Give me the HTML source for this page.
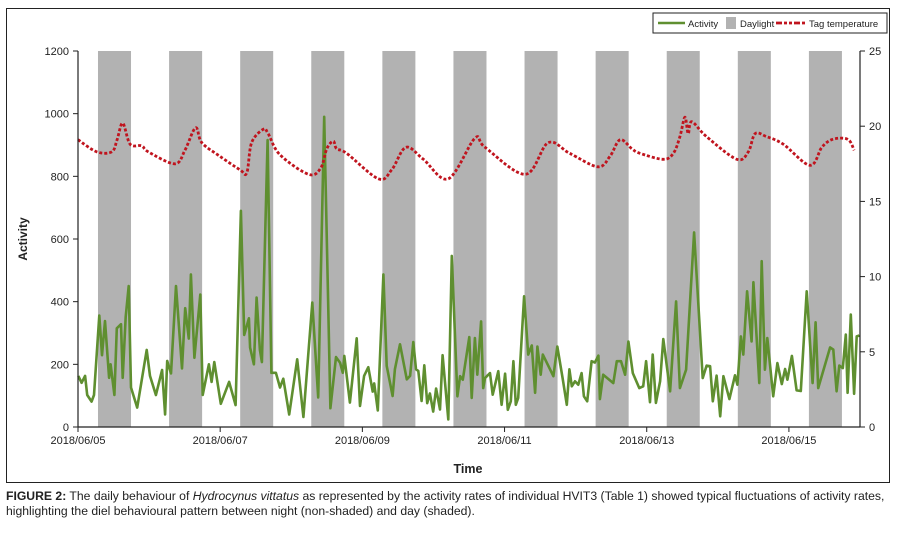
<!DOCTYPE html>
<html><head><meta charset="utf-8">
<style>
body{margin:0;background:#fff;width:897px;height:536px;overflow:hidden;font-family:"Liberation Sans",sans-serif;}
#frame{position:absolute;left:6px;top:8px;width:884px;height:475px;border:1.5px solid #222;box-sizing:border-box;}
#caption{position:absolute;left:6px;top:489px;width:895px;font-size:12.2px;line-height:15px;color:#222;white-space:nowrap;}
svg text{font-family:"Liberation Sans",sans-serif;font-size:11px;fill:#222;}
</style></head><body>
<div id="frame"></div>
<svg id="chart" width="897" height="536" style="position:absolute;left:0;top:0"></svg>
<div id="caption"><b>FIGURE 2:</b> The daily behaviour of <i>Hydrocynus vittatus</i> as represented by the activity rates of individual HVIT3 (Table 1) showed typical fluctuations of activity rates,<br>highlighting the diel behavioural pattern between night (non-shaded) and day (shaded).</div>
<script>
const actHours=[0.1,1.2,2.4,3.1,4.6,5.4,7.2,8.1,9.1,10.5,11.0,12.3,13.1,14.5,15.1,16.1,17.1,17.9,20.0,23.2,24.3,26.3,28.4,29.4,30.1,31.4,33.1,35.1,36.2,37.4,38.1,39.3,41.3,42.1,44.2,45.1,46.0,48.2,51.0,53.2,55.0,56.1,57.7,58.1,59.4,60.3,61.4,62.1,64.0,65.3,66.8,68.2,69.3,71.3,74.0,76.1,79.1,81.1,83.1,85.2,87.1,88.5,89.4,89.9,91.8,94.1,95.2,96.6,98.0,99.5,100.0,101.2,103.1,104.2,106.2,107.0,108.7,111.0,112.1,113.2,114.1,114.9,116.0,116.9,117.9,118.8,119.9,120.9,122.2,123.1,125.0,126.2,128.1,129.0,129.9,132.1,132.9,134.0,134.8,136.1,136.8,137.4,139.1,140.0,141.9,143.0,144.2,145.1,146.1,147.0,147.8,148.6,150.6,152.0,153.2,154.3,155.1,156.2,156.9,160.5,161.8,163.6,165.0,165.9,166.7,167.8,168.9,170.0,170.8,171.9,173.4,174.5,175.7,176.2,177.3,180.7,181.9,183.3,184.7,185.8,187.3,189.5,190.8,191.8,193.1,194.0,195.1,196.5,197.6,199.9,201.9,203.2,205.3,208.0,210.9,212.2,213.4,214.3,215.6,216.8,217.9,219.9,221.8,222.6,223.8,224.6,225.9,227.4,228.0,230.0,230.8,231.9,232.7,234.7,236.1,237.6,238.7,239.5,241.0,242.6,244.0,246.0,248.0,249.0,249.9,253.9,255.0,256.1,257.0,258.2,259.2,259.8,260.9,262.0,262.9,263.8];
const actValues=[163,141,163,102,81,102,356,229,338,157,200,102,315,328,157,352,450,126,62,246,163,102,182,40,211,171,450,187,379,282,487,221,423,102,200,144,207,74,144,70,690,294,347,253,200,413,246,207,916,173,173,126,154,40,216,32,397,94,990,60,223,205,173,227,78,283,67,163,191,113,139,53,487,195,99,184,264,152,163,271,184,179,83,197,76,107,49,123,56,229,24,546,98,162,151,287,93,284,167,337,124,156,172,103,178,71,170,55,82,210,71,93,417,231,260,109,257,167,231,162,257,156,71,184,130,146,135,172,98,82,210,206,228,89,167,140,210,210,167,273,172,124,130,210,79,231,77,146,281,114,401,124,183,621,156,196,194,82,164,34,162,89,165,135,289,231,433,273,462,140,529,183,284,98,204,137,185,151,227,117,115,433,140,334,124,254,247,114,196,188,295,109,359,106,289,292];
const tempHours=[0,6.3,11.4,13.2,15.1,17.6,21.5,23.7,32.7,36.1,39.7,41.8,47.9,54.7,57,58.6,62.6,64.2,68.2,77.8,81.9,84,86.2,87.3,90.7,101.4,105.9,110.7,116.6,125,134,137.4,151,158.7,166,175.5,179.6,183,187,189.7,197.6,201,203.2,204.9,206,207.2,212.2,222.4,226.3,228.6,232.5,238.1,247.1,251.1,254.4,258.4,260.6,262];
const tempValues=[19.1,18.3,18.3,19.1,20.2,18.8,18.7,18.3,17.5,18.4,19.9,18.9,18.0,17.1,16.9,18.9,19.8,19.5,18.1,16.8,17.2,18.5,19.0,18.5,18.2,16.5,17.1,18.6,17.8,16.5,19.2,18.6,16.8,18.9,18.2,17.3,18.0,19.1,18.5,18.2,17.8,18.2,19.3,20.6,19.5,20.3,19.3,17.8,18.3,19.5,19.3,18.8,17.4,18.6,19.1,19.2,19.0,18.4];
const leftTicks=[0,200,400,600,800,1000,1200];
const rightTicks=[0,5,10,15,20,25];
const dateLabels=["2018/06/05","2018/06/07","2018/06/09","2018/06/11","2018/06/13","2018/06/15"];
const dayCount=11, dayStart=6.75, dayEnd=17.9;

const svg=document.getElementById('chart');const NS='http://www.w3.org/2000/svg';
const X0=78,X1=860,Y0=427,Y1=51;
const xs=h=>X0+(X1-X0)*h/(dayCount*24);
const yL=v=>Y0-(Y0-Y1)*v/1200;
const yR=v=>Y0-(Y0-Y1)*v/25;
function mk(t,a){const e=document.createElementNS(NS,t);for(const k in a)e.setAttribute(k,a[k]);svg.appendChild(e);return e;}
for(let d=0;d<dayCount;d++){
  const r=mk('rect',{x:xs(d*24+dayStart),y:Y1,width:xs(d*24+dayEnd)-xs(d*24+dayStart),height:Y0-Y1,fill:'#b2b2b2'});
  
  
}
let p='';actHours.forEach((h,i)=>{p+=(i?'L':'M')+xs(h).toFixed(1)+' '+yL(actValues[i]).toFixed(1);});
const al=mk('path',{d:p,fill:'none',stroke:'#5f8f30','stroke-width':2.6,'stroke-linejoin':'round'});


const tp=tempHours.map((h,i)=>[xs(h),yR(tempValues[i])]);
p='M'+tp[0][0].toFixed(1)+' '+tp[0][1].toFixed(1);
for(let i=0;i<tp.length-1;i++){const a=tp[Math.max(0,i-1)],b=tp[i],c=tp[i+1],d=tp[Math.min(tp.length-1,i+2)];
  const c1=[b[0]+(c[0]-a[0])/6,b[1]+(c[1]-a[1])/6],c2=[c[0]-(d[0]-b[0])/6,c[1]-(d[1]-b[1])/6];
  p+='C'+c1[0].toFixed(1)+' '+c1[1].toFixed(1)+' '+c2[0].toFixed(1)+' '+c2[1].toFixed(1)+' '+c[0].toFixed(1)+' '+c[1].toFixed(1);}
const tl=mk('path',{d:p,fill:'none',stroke:'#c0141e','stroke-width':2.8,'stroke-dasharray':'3 2','stroke-linejoin':'round'});


const la=mk('line',{x1:X0,y1:Y1,x2:X0,y2:Y0,stroke:'#222','stroke-width':1.2});

const ra=mk('line',{x1:X1,y1:Y1,x2:X1,y2:Y0,stroke:'#222','stroke-width':1.2});

const ba=mk('line',{x1:X0,y1:Y0,x2:X1,y2:Y0,stroke:'#222','stroke-width':1.2});

leftTicks.forEach(v=>{mk('line',{x1:X0-5,x2:X0,y1:yL(v),y2:yL(v),stroke:'#222'});
  const t=mk('text',{x:X0-9,y:yL(v)+4,'text-anchor':'end'});t.textContent=v;
  });
rightTicks.forEach(v=>{mk('line',{x1:X1,x2:X1+5,y1:yR(v),y2:yR(v),stroke:'#222'});
  const t=mk('text',{x:X1+9,y:yR(v)+4});t.textContent=v;
  });
dateLabels.forEach((s,i)=>{const x=xs(i*48);mk('line',{x1:x,x2:x,y1:Y0,y2:Y0+5,stroke:'#222'});
  const t=mk('text',{x:x,y:Y0+17,'text-anchor':'middle'});t.textContent=s;
  });
const yt=mk('text',{x:0,y:0,transform:'translate(27,239) rotate(-90)','text-anchor':'middle','font-weight':'bold',style:'font-size:12px'});yt.textContent='Activity';

const xt=mk('text',{x:468,y:473,'text-anchor':'middle','font-weight':'bold',style:'font-size:12.5px'});xt.textContent='Time';

const lg=mk('rect',{x:653,y:13,width:234,height:20,fill:'#fff',stroke:'#222','stroke-width':1});

mk('line',{x1:658,x2:685,y1:23,y2:23,stroke:'#5f8f30','stroke-width':2.6});
const l1=mk('text',{x:688,y:27,style:'font-size:9.5px'});l1.textContent='Activity';

mk('rect',{x:726,y:17,width:10,height:12,fill:'#b2b2b2'});
const l2=mk('text',{x:740,y:27,style:'font-size:9.5px'});l2.textContent='Daylight';

mk('line',{x1:776,x2:805,y1:23,y2:23,stroke:'#c0141e','stroke-width':2.8,'stroke-dasharray':'6 2 3 2 3 2'});
const l3=mk('text',{x:809,y:27,style:'font-size:9.5px'});l3.textContent='Tag temperature';

</script>
</body></html>
